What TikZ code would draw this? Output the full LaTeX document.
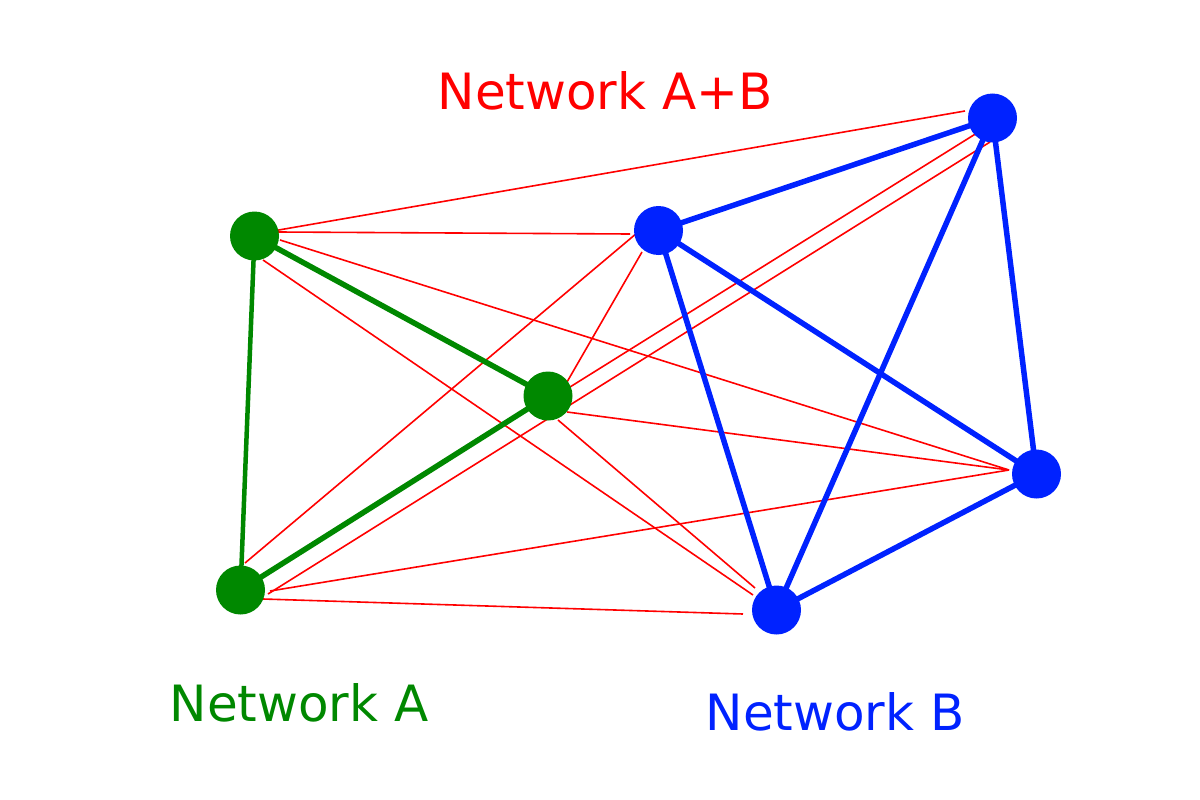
\documentclass[tikz,border=0pt]{standalone}
\usepackage{fontspec}
\setmainfont{DejaVu Sans}
\usetikzlibrary{backgrounds}
\definecolor{ngreen}{RGB}{0,136,0}
\definecolor{nblue}{RGB}{0,34,255}
\definecolor{nred}{RGB}{255,0,0}
\tikzset{
  dotA/.style={circle,fill=ngreen,minimum size=49pt,inner sep=0pt,outer sep=0pt},
  dotB/.style={circle,fill=nblue,minimum size=49pt,inner sep=0pt,outer sep=0pt},
  redline/.style={draw=nred,line width=1.6pt},
  greenline/.style={draw=ngreen,line width=5.5pt},
  blueline/.style={draw=nblue,line width=5.5pt},
  lbl/.style={anchor=base west,inner sep=0pt,font=\fontsize{50}{60}\selectfont}
}
\begin{document}
\begin{tikzpicture}[x=1pt,y=-1pt]
\useasboundingbox (0,0) rectangle (1200,800);
\node[dotA] (a1) at (254.5,236) {};
\node[dotA] (a2) at (548,396) {};
\node[dotA] (a3) at (240.5,590) {};
\node[dotB] (b1) at (658.5,230.5) {};
\node[dotB] (b2) at (992.5,118) {};
\node[dotB] (b3) at (1036.5,474) {};
\node[dotB] (b4) at (776.5,610) {};
\node[lbl,text=nred] (tab) at (437.5,110) {Network A+B};
\node[lbl,text=ngreen] (ta) at (169.5,721.5) {Network A};
\node[lbl,text=nblue] (tb) at (705.5,730.5) {Network B};
\begin{pgfonlayer}{background}
% red links between the two networks
\draw[redline] ([shift={(23.5,-4)}]a1.center) -- ([shift={(-28.5,3.5)}]b1.center);
\draw[redline] ([shift={(18.5,-5)}]a1.center) -- ([shift={(-27.5,-7)}]b2.center);
\draw[redline] ([shift={(25.5,4)}]a1.center) -- ([shift={(-27.5,-4)}]b3.center);
\draw[redline] ([shift={(8.5,24)}]a1.center) -- ([shift={(-23.5,-15)}]b4.center);
\draw[redline] ([shift={(19,-14)}]a2.center) -- ([shift={(-16.5,21.5)}]b1.center);
\draw[redline] ([shift={(22,-9)}]a2.center) -- ([shift={(-15.5,15)}]b2.center);
\draw[redline] ([shift={(19,16)}]a2.center) -- ([shift={(-27.5,-4)}]b3.center);
\draw[redline] ([shift={(10,24)}]a2.center) -- ([shift={(-21.5,-22)}]b4.center);
\draw[redline] ([shift={(4.5,-27)}]a3.center) -- ([shift={(-21.5,2.5)}]b1.center);
\draw[redline] ([shift={(27.5,4)}]a3.center) -- ([shift={(-2.5,24)}]b2.center);
\draw[redline] ([shift={(29.5,1)}]a3.center) -- ([shift={(-27.5,-4)}]b3.center);
\draw[redline] ([shift={(22.5,9)}]a3.center) -- ([shift={(-33.5,4)}]b4.center);
% network A
\draw[greenline,line width=4.5pt] (a1.center) -- (a3.center);
\draw[greenline] (a1.center) -- (a2.center);
\draw[greenline] (a2.center) -- (a3.center);
% network B
\draw[blueline] (b1.center) -- (b2.center);
\draw[blueline] (b1.center) -- (b3.center);
\draw[blueline] (b1.center) -- (b4.center);
\draw[blueline] (b2.center) -- (b4.center);
\draw[blueline] (b2.center) -- (b3.center);
\draw[blueline] (b3.center) -- (b4.center);
\end{pgfonlayer}
\end{tikzpicture}
\end{document}
